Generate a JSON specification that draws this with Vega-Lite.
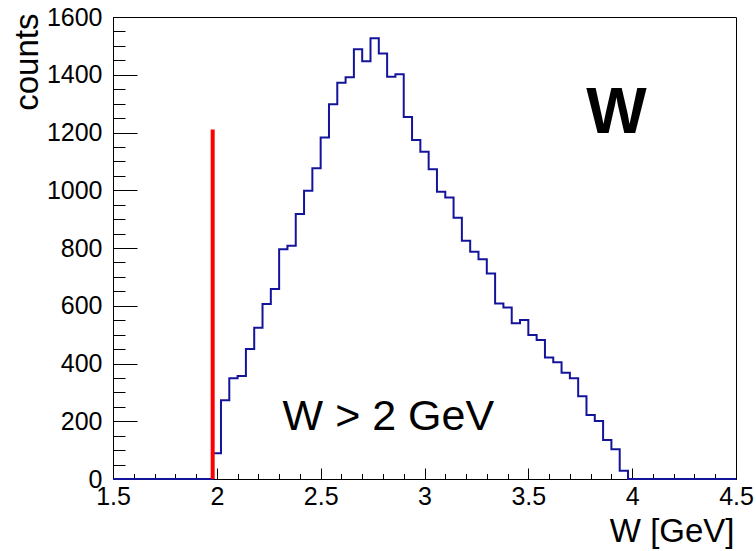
{
  "$schema": "https://vega.github.io/schema/vega-lite/v6.json",
  "width": 623,
  "height": 462,
  "autosize": {"type": "none"},
  "padding": {"left": 113, "top": 17, "right": 20, "bottom": 72},
  "background": "white",
  "config": {"view": {"stroke": "black", "strokeWidth": 1}, "font": "Liberation Sans"},
  "resolve": {"axis": {"x": "independent", "y": "independent"}},
  "layer": [
    {
      "data": {"values": [
        {"w": 1.50, "counts": 0}, {"w": 1.54, "counts": 0}, {"w": 1.58, "counts": 0}, {"w": 1.62, "counts": 0},
        {"w": 1.66, "counts": 0}, {"w": 1.70, "counts": 0}, {"w": 1.74, "counts": 0}, {"w": 1.78, "counts": 0},
        {"w": 1.82, "counts": 0}, {"w": 1.86, "counts": 0}, {"w": 1.90, "counts": 0}, {"w": 1.94, "counts": 0},
        {"w": 1.98, "counts": 89}, {"w": 2.02, "counts": 273}, {"w": 2.06, "counts": 349}, {"w": 2.10, "counts": 357},
        {"w": 2.14, "counts": 450}, {"w": 2.18, "counts": 524}, {"w": 2.22, "counts": 606}, {"w": 2.26, "counts": 658},
        {"w": 2.30, "counts": 796}, {"w": 2.34, "counts": 808}, {"w": 2.38, "counts": 918}, {"w": 2.42, "counts": 998},
        {"w": 2.46, "counts": 1076}, {"w": 2.50, "counts": 1183}, {"w": 2.54, "counts": 1298}, {"w": 2.58, "counts": 1372},
        {"w": 2.62, "counts": 1391}, {"w": 2.66, "counts": 1488}, {"w": 2.70, "counts": 1447}, {"w": 2.74, "counts": 1526},
        {"w": 2.78, "counts": 1474}, {"w": 2.82, "counts": 1393}, {"w": 2.86, "counts": 1402}, {"w": 2.90, "counts": 1254},
        {"w": 2.94, "counts": 1174}, {"w": 2.98, "counts": 1133}, {"w": 3.02, "counts": 1073}, {"w": 3.06, "counts": 995},
        {"w": 3.10, "counts": 975}, {"w": 3.14, "counts": 905}, {"w": 3.18, "counts": 825}, {"w": 3.22, "counts": 787},
        {"w": 3.26, "counts": 761}, {"w": 3.30, "counts": 712}, {"w": 3.34, "counts": 608}, {"w": 3.38, "counts": 594},
        {"w": 3.42, "counts": 539}, {"w": 3.46, "counts": 551}, {"w": 3.50, "counts": 499}, {"w": 3.54, "counts": 481},
        {"w": 3.58, "counts": 421}, {"w": 3.62, "counts": 404}, {"w": 3.66, "counts": 368}, {"w": 3.70, "counts": 349},
        {"w": 3.74, "counts": 287}, {"w": 3.78, "counts": 222}, {"w": 3.82, "counts": 201}, {"w": 3.86, "counts": 135},
        {"w": 3.90, "counts": 103}, {"w": 3.94, "counts": 29}, {"w": 3.98, "counts": 0}, {"w": 4.02, "counts": 0},
        {"w": 4.06, "counts": 0}, {"w": 4.10, "counts": 0}, {"w": 4.14, "counts": 0}, {"w": 4.18, "counts": 0},
        {"w": 4.22, "counts": 0}, {"w": 4.26, "counts": 0}, {"w": 4.30, "counts": 0}, {"w": 4.34, "counts": 0},
        {"w": 4.38, "counts": 0}, {"w": 4.42, "counts": 0}, {"w": 4.46, "counts": 0}, {"w": 4.50, "counts": 0}
      ]},
      "mark": {"type": "line", "interpolate": "step-after", "color": "#14149b", "strokeWidth": 2},
      "encoding": {
        "x": {
          "field": "w", "type": "quantitative",
          "scale": {"domain": [1.5, 4.5], "nice": false, "zero": false},
          "axis": {
            "orient": "bottom",
            "title": "W [GeV]",
            "values": [1.5, 2, 2.5, 3, 3.5, 4, 4.5],
            "format": ".1~f",
            "tickSize": -11,
            "tickColor": "black",
            "grid": false,
            "labelPadding": 16,
            "labelFontSize": 25,
            "labelFont": "Liberation Sans",
            "labelColor": "black",
            "labelFlush": false,
            "labelOverlap": false,
            "domainColor": "black",
            "titleFont": "Liberation Sans",
            "titleFontSize": 33,
            "titleFontWeight": "normal",
            "titleColor": "black",
            "titleAlign": "right",
            "titleBaseline": "alphabetic",
            "titleX": 621,
            "titleY": 62
          }
        },
        "y": {
          "field": "counts", "type": "quantitative",
          "scale": {"domain": [0, 1600], "nice": false},
          "axis": {
            "orient": "left",
            "title": "counts",
            "values": [0, 200, 400, 600, 800, 1000, 1200, 1400, 1600],
            "format": "d",
            "tickSize": -24,
            "tickColor": "black",
            "grid": false,
            "labelPadding": 35,
            "labelFontSize": 25,
            "labelFont": "Liberation Sans",
            "labelColor": "black",
            "labelFlush": false,
            "labelOverlap": false,
            "domainColor": "black",
            "titleFont": "Liberation Sans",
            "titleFontSize": 33,
            "titleFontWeight": "normal",
            "titleColor": "black",
            "titleAngle": -90,
            "titleAlign": "right",
            "titleBaseline": "alphabetic",
            "titleX": -76,
            "titleY": -4
          }
        }
      }
    },
    {
      "data": {"values": [{"w": 1.98, "counts": 0, "top": 1210}]},
      "mark": {"type": "rule", "color": "#ff0000", "strokeWidth": 4},
      "encoding": {
        "x": {
          "field": "w", "type": "quantitative",
          "axis": {
            "orient": "bottom",
            "title": null,
            "values": [1.6, 1.7, 1.8, 1.9, 2.1, 2.2, 2.3, 2.4, 2.6, 2.7, 2.8, 2.9, 3.1, 3.2, 3.3, 3.4, 3.6, 3.7, 3.8, 3.9, 4.1, 4.2, 4.3, 4.4],
            "labels": false,
            "domain": false,
            "grid": false,
            "tickSize": -5.5,
            "tickColor": "black"
          }
        },
        "y": {
          "field": "counts", "type": "quantitative",
          "axis": {
            "orient": "left",
            "title": null,
            "values": [50, 100, 150, 250, 300, 350, 450, 500, 550, 650, 700, 750, 850, 900, 950, 1050, 1100, 1150, 1250, 1300, 1350, 1450, 1500, 1550],
            "labels": false,
            "domain": false,
            "grid": false,
            "tickSize": -12,
            "tickColor": "black"
          }
        },
        "y2": {"field": "top"}
      }
    },
    {
      "data": {"values": [{"w": 2.826, "counts": 170, "label": "W > 2 GeV"}]},
      "mark": {"type": "text", "font": "Liberation Sans", "fontSize": 43, "color": "black", "align": "center", "baseline": "alphabetic"},
      "encoding": {
        "x": {"field": "w", "type": "quantitative", "axis": null},
        "y": {"field": "counts", "type": "quantitative", "axis": null},
        "text": {"field": "label"}
      }
    },
    {
      "data": {"values": [{"w": 3.924, "counts": 1198, "label": "W"}]},
      "mark": {"type": "text", "font": "Liberation Sans", "fontSize": 64, "fontWeight": "bold", "color": "black", "align": "center", "baseline": "alphabetic"},
      "encoding": {
        "x": {"field": "w", "type": "quantitative", "axis": null},
        "y": {"field": "counts", "type": "quantitative", "axis": null},
        "text": {"field": "label"}
      }
    }
  ]
}
